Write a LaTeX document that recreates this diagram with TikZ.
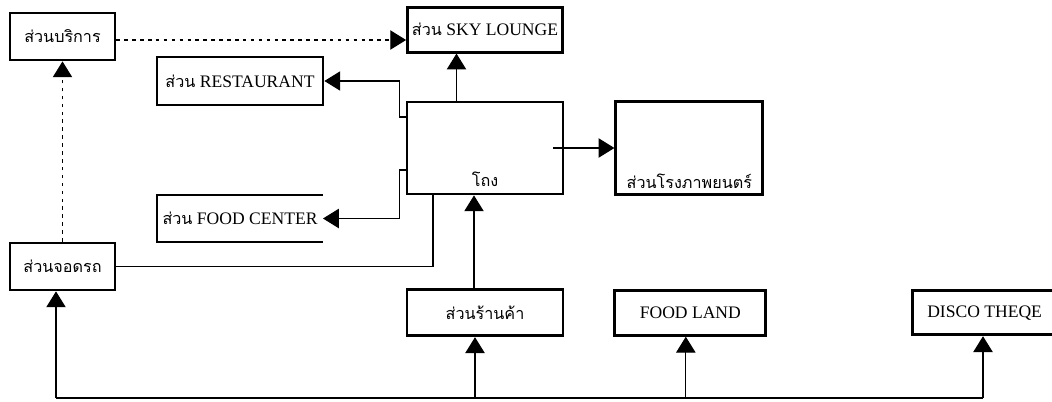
\documentclass[tikz,border=0pt]{standalone}
\usepackage{fontspec}
\setmainfont{Liberation Serif}
\newfontfamily\thaifnt[Script=Thai, Scale=0.92]{Loma}
\usetikzlibrary{arrows.meta, positioning}

\begin{document}
\begin{tikzpicture}[
  font=\fontsize{10}{12}\selectfont,
  box/.style={draw, line width=1.6pt, inner sep=2pt},
  openbox/.style={inner sep=2pt, outer sep=0pt},
  link/.style={line width=0.6pt, -{Triangle[length=9pt,width=11pt]}},
  dotlink/.style={link, dash pattern=on 2pt off 2.5pt},
  wire/.style={line width=0.6pt}]

  \useasboundingbox (0,0) rectangle (21.04,-8.02);

  % centre: hall and what hangs on it
  \node[box, minimum width=31.2mm, minimum height=18.4mm] (hall) at (9.7,-2.96) {};
  \node (hallname) at ([yshift=3.2mm]hall.south) {\thaifnt โถง};

  \node[box, above=0.94cm of hall, minimum width=31mm, minimum height=9mm] (sky)
    {{\thaifnt ส่วน} SKY LOUNGE};
  \node[box, right=1.0cm of hall, minimum width=29.4mm, minimum height=18.6mm] (movie) {};
  \node (moviename) at ([yshift=3mm]movie.south) {\thaifnt ส่วนโรงภาพยนตร์};

  \node[box, minimum width=33.2mm, minimum height=9.6mm] (rest) at (4.8,-1.62)
    {{\thaifnt ส่วน} RESTAURANT};
  \node[openbox, minimum width=33.2mm, minimum height=9.4mm] (foodc) at (4.8,-4.37)
    {{\thaifnt ส่วน} FOOD CENTER};
  \draw[line width=1.6pt] (foodc.north east) -- (foodc.north west)
    -- (foodc.south west) -- (foodc.south east);

  % left column
  \node[box, minimum width=21mm, minimum height=9.4mm] (service) at (1.25,-0.73)
    {\thaifnt ส่วนบริการ};
  \node[box, minimum width=21mm, minimum height=9.4mm] (parking) at (1.25,-5.33)
    {\thaifnt ส่วนจอดรถ};

  % bottom row
  \node[box, below=1.86cm of hall, minimum width=31.2mm, minimum height=9.2mm] (shops)
    {\thaifnt ส่วนร้านค้า};
  \node[box, right=0.98cm of shops, minimum width=30.2mm, minimum height=9mm] (foodland)
    {FOOD LAND};
  \node[box, right=2.88cm of foodland, minimum width=28.8mm, minimum height=8.8mm] (disco)
    {DISCO THEQE};

  % connectors
  \draw[dotlink] (parking) -- (service);
  \draw[dotlink] ([yshift=-0.07cm]service.east) -- ([yshift=-0.07cm]service.east -| sky.west);
  \draw[link] ([xshift=-5.7mm]hall.north) -- ([xshift=-5.7mm]hall.north |- sky.south);
  \draw[link] ([yshift=6.2mm]hall.west) -- ++(-0.12,0) |- (rest.east);
  \draw[link] ([yshift=-4.4mm]hall.west) -- ++(-0.12,0) |- (foodc.east);
  \draw[wire] (parking.east) -| ([xshift=-10.4mm]hall.south);
  \draw[link] ([xshift=-2.2mm]hall.east) -- (hall.east -| movie.west);
  \draw[link] ([xshift=-2.2mm]shops.north) -- ([xshift=-2.2mm]shops.north |- hall.south);

  \coordinate (busL) at (1.12,-7.96);
  \coordinate (busR) at (19.66,-7.96);
  \draw[wire] (busL) -- (busR);
  \draw[link] (busL) -- (busL |- parking.south);
  \draw[link] (busR) -- (busR |- disco.south);
  \draw[link] ([xshift=-2mm]shops.south |- busL) -- ([xshift=-2mm]shops.south);
  \draw[link] ([xshift=-0.9mm]foodland.south |- busL) -- ([xshift=-0.9mm]foodland.south);
\end{tikzpicture}
\end{document}
